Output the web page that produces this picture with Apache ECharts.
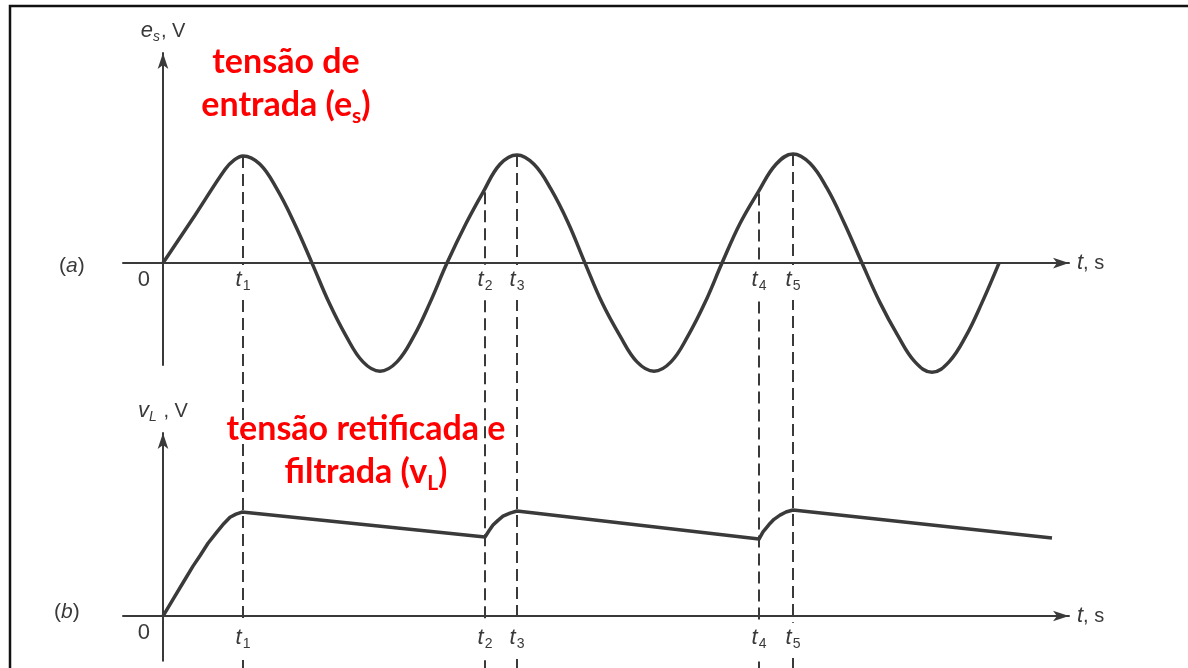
<!DOCTYPE html>
<html>
<head>
<meta charset="utf-8">
<script src="https://cdn.jsdelivr.net/npm/echarts@6/dist/echarts.min.js"></script>
<style>
  html, body { margin: 0; padding: 0; background: #fff; }
  #chart { width: 1188px; height: 668px; }
</style>
</head>
<body>
<div id="chart"></div>
<script>
// input voltage e_s(t); t and V in arbitrary units
const esPoints = [
  [0, 0], [0.32, 0.46], [0.62, 0.90], [0.71, 0.99], [0.80, 1.03], [0.97, 0.95], [1.14, 0.71], [1.31, 0.39],
  [1.49, 0], [1.66, -0.38], [1.83, -0.70], [2.00, -0.95], [2.17, -1.04], [2.34, -0.95], [2.51, -0.70], [2.67, -0.38],
  [2.84, 0], [3.03, 0.38], [3.20, 0.68], [3.37, 0.95], [3.54, 1.04], [3.71, 0.95], [3.88, 0.71], [4.05, 0.39],
  [4.22, 0], [4.39, -0.38], [4.57, -0.70], [4.74, -0.95], [4.91, -1.04], [5.08, -0.95], [5.25, -0.70], [5.42, -0.38],
  [5.59, 0], [5.77, 0.38], [5.95, 0.68], [6.13, 0.95], [6.30, 1.05], [6.47, 0.96], [6.64, 0.72], [6.81, 0.39],
  [6.99, 0], [7.17, -0.38], [7.35, -0.70], [7.52, -0.95], [7.69, -1.05], [7.86, -0.95], [8.03, -0.70], [8.19, -0.38],
  [8.36, 0]
];
// rectified + filtered load voltage v_L(t), panel (b)
const vlPoints = [
  [0, 0], [0.10, 0.16], [0.20, 0.32], [0.30, 0.48], [0.37, 0.58], [0.45, 0.70], [0.54, 0.81], [0.61, 0.89],
  [0.67, 0.95], [0.73, 0.98], [0.79, 1.00],
  [3.22, 0.76], [3.26, 0.82], [3.30, 0.875], [3.35, 0.92], [3.40, 0.96], [3.47, 0.99], [3.54, 1.01],
  [5.96, 0.74], [6.00, 0.81], [6.06, 0.88], [6.11, 0.93], [6.17, 0.97], [6.23, 1.00], [6.30, 1.02],
  [8.89, 0.75]
];
// instants t1..t5 and where their dashed guides start on e_s
const markTimes = [0.80, 3.22, 3.54, 5.96, 6.30];
const markNames = ['1', '2', '3', '4', '5'];
const markTops = [1.03, 0.68, 1.04, 0.67, 1.05];

const ink = '#3a3a3a';
const axisFont = 'Liberation Sans';
const redFont = 'Lato';
const tMin = -0.4, tMax = 9.06;
const guideMin = -3.9;

const labelRich = {
  t: { fontSize: 22, fontStyle: 'italic', fontFamily: axisFont, color: ink, lineHeight: 26, verticalAlign: 'middle' },
  s: { fontSize: 14, fontFamily: axisFont, color: ink, lineHeight: 14, verticalAlign: 'bottom', padding: [0, 0, 0, 1] },
  si: { fontSize: 14, fontStyle: 'italic', fontFamily: axisFont, color: ink, lineHeight: 14, verticalAlign: 'bottom', padding: [0, 1, 0, 0] },
  n: { fontSize: 20, fontFamily: axisFont, color: ink, lineHeight: 26, verticalAlign: 'middle' }
};

const redRich = {
  r: { fontSize: 34, fontWeight: 'bold', fontFamily: redFont, fill: '#ff0000', lineHeight: 43, verticalAlign: 'middle' },
  s: { fontSize: 21, fontWeight: 'bold', fontFamily: redFont, fill: '#ff0000', lineHeight: 21, verticalAlign: 'bottom' }
};

function tLabel(v) {
  const i = markTimes.indexOf(v);
  return i < 0 ? '' : '{t|t}{s|' + markNames[i] + '}';
}

// labels sit at the grid edge, so pull them up under the zero line
function timeAxis(grid, labelMargin) {
  return {
    type: 'value', gridIndex: grid, min: tMin, max: tMax, z: 3,
    axisLine: { onZero: true, lineStyle: { color: ink, width: 2 }, symbol: ['none', 'arrow'], symbolSize: [8, 16] },
    axisTick: { show: false },
    splitLine: { show: false },
    axisLabel: {
      customValues: markTimes, formatter: tLabel, margin: labelMargin,
      backgroundColor: '#fff', padding: [2, 2, 7, 2], rich: labelRich
    },
    name: '{t|t}{n|, s}', nameLocation: 'end', nameGap: 8,
    nameTextStyle: { rich: labelRich }
  };
}

function voltAxis(grid, min, max, name) {
  return {
    type: 'value', gridIndex: grid, min: min, max: max, z: 3,
    axisLine: { onZero: true, lineStyle: { color: ink, width: 2 }, symbol: ['none', 'arrow'], symbolSize: [8, 16] },
    axisTick: { show: false },
    splitLine: { show: false },
    axisLabel: {
      customValues: [0], formatter: () => '0', verticalAlign: 'top', margin: -27,
      padding: [6, 0, 0, 0], fontSize: 22, fontFamily: axisFont, color: ink
    },
    name: name, nameLocation: 'end', nameGap: 9,
    nameTextStyle: { rich: labelRich }
  };
}

const chart = echarts.init(document.getElementById('chart'));
chart.setOption({
  animation: false,
  backgroundColor: '#fff',
  grid: [
    { left: 123, width: 946, top: 53, height: 312, outerBoundsMode: 'none' },
    { left: 123, width: 946, top: 433, height: 227.76, outerBoundsMode: 'none' },
    { left: 123, width: 946, top: 53, height: 615.68, outerBoundsMode: 'none' }
  ],
  xAxis: [
    timeAxis(0, -100),
    timeAxis(1, -38),
    { type: 'value', gridIndex: 2, min: tMin, max: tMax, show: false }
  ],
  yAxis: [
    voltAxis(0, -0.98, 2.02, '{t|e}{si|s}{n|, V}'),
    voltAxis(1, -0.43, 1.76, '{t|v}{si|L}{n| , V}'),
    { type: 'value', gridIndex: 2, min: guideMin, max: 2.02, show: false }
  ],
  graphic: [
    {
      type: 'rect', z: 20, silent: true,
      shape: { x: 10, y: 6, width: 1200, height: 700 },
      style: { fill: 'none', stroke: '#111', lineWidth: 2.5 }
    },
    {
      type: 'text', z: 20, x: 286, y: 41,
      style: { text: '{r|tensão de}\n{r|entrada (e}{s|s}{r|)}', align: 'center', verticalAlign: 'top', rich: redRich }
    },
    {
      type: 'text', z: 20, x: 366, y: 408,
      style: { text: '{r|tensão retificada e}\n{r|filtrada (v}{s|L}{r|)}', align: 'center', verticalAlign: 'top', rich: redRich }
    },
    {
      type: 'text', z: 20, x: 59, y: 256,
      style: { text: '({i|a})', fontSize: 21, fontFamily: axisFont, fill: ink,
        rich: { i: { fontSize: 21, fontStyle: 'italic', fontFamily: axisFont, fill: ink } } }
    },
    {
      type: 'text', z: 20, x: 54, y: 602,
      style: { text: '({i|b})', fontSize: 21, fontFamily: axisFont, fill: ink,
        rich: { i: { fontSize: 21, fontStyle: 'italic', fontFamily: axisFont, fill: ink } } }
    }
  ],
  series: [
    ...markTimes.map((t, i) => ({
      type: 'line', xAxisIndex: 2, yAxisIndex: 2, z: 1, silent: true,
      data: [[t, markTops[i]], [t, guideMin]],
      symbol: 'none',
      lineStyle: { color: ink, width: 2, type: [12, 6] }
    })),
    {
      name: 'e_s', type: 'line', xAxisIndex: 0, yAxisIndex: 0, z: 2, clip: false,
      data: esPoints, smooth: 0.4, symbol: 'none',
      lineStyle: { color: ink, width: 3.5 }
    },
    {
      name: 'v_L', type: 'line', xAxisIndex: 1, yAxisIndex: 1, z: 2, clip: false,
      data: vlPoints, symbol: 'none',
      lineStyle: { color: ink, width: 3.5, join: 'round' }
    }
  ]
});
</script>
</body>
</html>
